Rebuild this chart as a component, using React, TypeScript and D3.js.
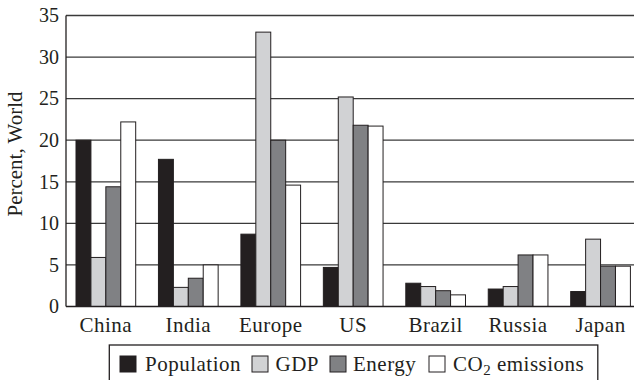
import React from "react";
import * as d3 from "d3";

const categories = ["China", "India", "Europe", "US", "Brazil", "Russia", "Japan"];
const seriesNames = ["Population", "GDP", "Energy", "CO2 emissions"];
const population = [20, 17.7, 8.7, 4.7, 2.8, 2.1, 1.8];
const gdp = [5.9, 2.3, 33, 25.2, 2.4, 2.4, 8.1];
const energy = [14.4, 3.4, 20, 21.8, 1.9, 6.2, 4.85];
const co2 = [22.2, 5.0, 14.6, 21.7, 1.4, 6.2, 4.85];
const yTicks = [0, 5, 10, 15, 20, 25, 30, 35];
const colors = ["#231f20", "#d1d2d4", "#808184", "#ffffff"];

const W = 634;
const H = 380;
const FONT = "'Liberation Serif', 'Times New Roman', serif";

export default function App() {
  const left = 66;
  const top = 15.5;
  const bottom = 306.5;
  const plotRight = 640.4;

  const data = [population, gdp, energy, co2];
  const x = d3.scaleBand<string>().domain(categories).range([left, plotRight]).paddingInner(0.276).paddingOuter(0.1213);
  const xi = d3.scaleBand<string>().domain(seriesNames).range([0, x.bandwidth()]);
  const y = d3.scaleLinear().domain([0, 35]).range([bottom, top]);

  const legendItems = [
    { name: "Population", sq: 120, tx: 145 },
    { name: "GDP", sq: 252, tx: 275.5 },
    { name: "Energy", sq: 330, tx: 353 },
    { name: "CO2", sq: 429, tx: 453 },
  ];

  return (
    <svg width={W} height={H} style={{ position: "absolute", left: 0, top: 0, background: "#fff" }} fontFamily={FONT}>
      <rect x={0} y={0} width={W} height={H} fill="#fff" />
      {yTicks.map((t) => (
        <g key={t}>
          {t > 0 && <line x1={left} x2={plotRight + 10} y1={y(t)} y2={y(t)} stroke="#3a3a3a" strokeWidth={1.3} />}
          <text x={59} y={y(t)} dy="0.34em" textAnchor="end" fontSize={20} fill="#231f20">{t}</text>
        </g>
      ))}
      {categories.map((c, ci) => (
        <g key={c}>
          {seriesNames.map((s, si) => {
            const v = data[si][ci];
            return (
              <rect key={s} x={(x(c) as number) + (xi(s) as number)} y={y(v)} width={xi.bandwidth()} height={y(0) - y(v)}
                fill={colors[si]} stroke="#231f20" strokeWidth={1} />
            );
          })}
          <text x={(x(c) as number) + x.bandwidth() / 2} y={332} textAnchor="middle" fontSize={21} letterSpacing={0.5} fill="#231f20">{c}</text>
        </g>
      ))}
      <line x1={left} x2={left} y1={top} y2={bottom} stroke="#231f20" strokeWidth={1.3} />
      <line x1={left} x2={plotRight + 10} y1={bottom} y2={bottom} stroke="#231f20" strokeWidth={1.3} />
      <text transform={`translate(22,154) rotate(-90)`} textAnchor="middle" fontSize={21} fill="#231f20">Percent, World</text>
      <rect x={109.3} y={345} width={488.5} height={45} fill="none" stroke="#231f20" strokeWidth={1.3} />
      {legendItems.map((it, i) => (
        <g key={it.name}>
          <rect x={it.sq} y={356} width={16} height={16} fill={colors[i]} stroke="#231f20" strokeWidth={1} />
          <text x={it.tx} y={370.5} fontSize={21} letterSpacing={0.5} fill="#231f20">
            {it.name === "CO2" ? (
              <>CO<tspan fontSize={15} dy={4}>2</tspan><tspan dy={-4}> emissions</tspan></>
            ) : it.name}
          </text>
        </g>
      ))}
    </svg>
  );
}
